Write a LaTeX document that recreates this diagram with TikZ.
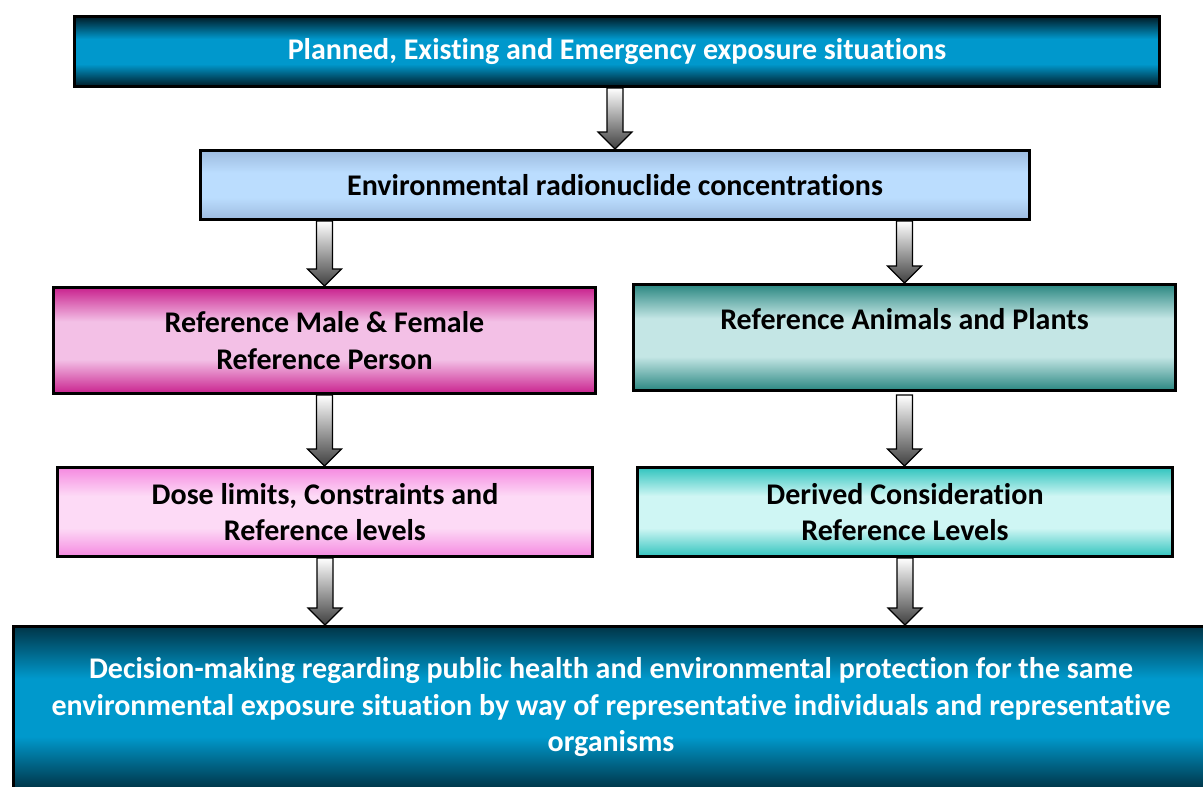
\documentclass[tikz,border=0pt]{standalone}
\usepackage{fontspec}
\setmainfont{Carlito}[Ligatures=NoCommon]
\usetikzlibrary{calc}
\definecolor{bAedge}{HTML}{001B26}\definecolor{bAmid}{HTML}{0098CC}
\definecolor{bBedge}{HTML}{9DBBDF}\definecolor{bBmid}{HTML}{BBDDFE}
\definecolor{bCedge}{HTML}{C9228E}\definecolor{bCmid}{HTML}{F3C0E6}
\definecolor{bDedge}{HTML}{2A8781}\definecolor{bDmid}{HTML}{C4E6E5}
\definecolor{bEedge}{HTML}{F589E0}\definecolor{bEmid}{HTML}{FDDAF6}
\definecolor{bFedge}{HTML}{31C4BE}\definecolor{bFmid}{HTML}{CFF6F4}
\definecolor{bGedge}{HTML}{003548}\definecolor{bGmid}{HTML}{0099CC}
\colorlet{edgecol}{black}\colorlet{midcol}{white}
\pgfdeclareverticalshading[edgecol,midcol]{band}{100bp}{color(0bp)=(edgecol); color(25bp)=(edgecol); color(41bp)=(midcol); color(59bp)=(midcol); color(75bp)=(edgecol); color(100bp)=(edgecol)}
\newcommand\blockarrow[2]{%
  \path[blockarrowstyle] let \p1=(#1), \p2=(#2) in
    (\x1-8pt,\y1) -- (\x1+8pt,\y1) -- (\x1+8pt,\y2+17pt) -- (\x1+17pt,\y2+17pt)
    -- (\x1,\y2) -- (\x1-17pt,\y2+17pt) -- (\x1-8pt,\y2+17pt) -- cycle;}
\begin{document}
\begin{tikzpicture}[x=1pt,y=-1pt,
  flowbox/.style={draw=black, line width=3pt, rectangle, inner sep=0pt, outer sep=1.5pt,
    align=center, shading=band, font=\fontsize{30}{36.5}\selectfont\bfseries},
  paletteA/.style={flowbox, text=white, /utils/exec={\colorlet{edgecol}{bAedge}\colorlet{midcol}{bAmid}}},
  paletteB/.style={flowbox, /utils/exec={\colorlet{edgecol}{bBedge}\colorlet{midcol}{bBmid}}},
  paletteC/.style={flowbox, /utils/exec={\colorlet{edgecol}{bCedge}\colorlet{midcol}{bCmid}}},
  paletteD/.style={flowbox, /utils/exec={\colorlet{edgecol}{bDedge}\colorlet{midcol}{bDmid}}},
  paletteE/.style={flowbox, /utils/exec={\colorlet{edgecol}{bEedge}\colorlet{midcol}{bEmid}}},
  paletteF/.style={flowbox, /utils/exec={\colorlet{edgecol}{bFedge}\colorlet{midcol}{bFmid}}},
  paletteG/.style={flowbox, text=white, /utils/exec={\colorlet{edgecol}{bGedge}\colorlet{midcol}{bGmid}}},
  blockarrowstyle/.style={draw=black, line width=1.2pt, line join=miter, top color=white, bottom color=black!75}
]
\useasboundingbox (0,0) rectangle (1203,787);

\node[paletteA, minimum width=1085pt, minimum height=70pt] (b1) at (617,51.5)
  {Planned, Existing and Emergency exposure situations};
\node[paletteB, minimum width=829pt, minimum height=69pt] (b2) at (615,185)
  {Environmental radionuclide concentrations};
\node[paletteC, minimum width=542pt, minimum height=106pt] (b3) at (324.5,340.5)
  {Reference Male \& Female\\Reference Person};
\node[paletteD, minimum width=542pt, minimum height=106pt] (b4) at (904.5,337.5)
  {Reference Animals and Plants\\[0pt]\mbox{}};
\node[paletteE, minimum width=535pt, minimum height=89pt] (b5) at (325,512)
  {Dose limits, Constraints and\\Reference levels};
\node[paletteF, minimum width=535pt, minimum height=89pt] (b6) at (905,512)
  {Derived Consideration\\Reference Levels};
\node[paletteG, minimum width=1195pt, minimum height=162pt] (b7) at (611,707.5)
  {Decision-making regarding public health and environmental protection for the same\\
   environmental exposure situation by way of representative individuals and representative\\
   organisms};

\blockarrow{b1.south -| b2.north}{b2.north}
\blockarrow{b2.south -| b3.north}{b3.north}
\blockarrow{b2.south -| b4.north}{b4.north}
\blockarrow{b3.south}{b5.north -| b3.south}
\blockarrow{[yshift=-3pt]b4.south}{b6.north -| b4.south}
\blockarrow{b5.south}{b7.north -| b5.south}
\blockarrow{b6.south}{b7.north -| b6.south}
\end{tikzpicture}
\end{document}
